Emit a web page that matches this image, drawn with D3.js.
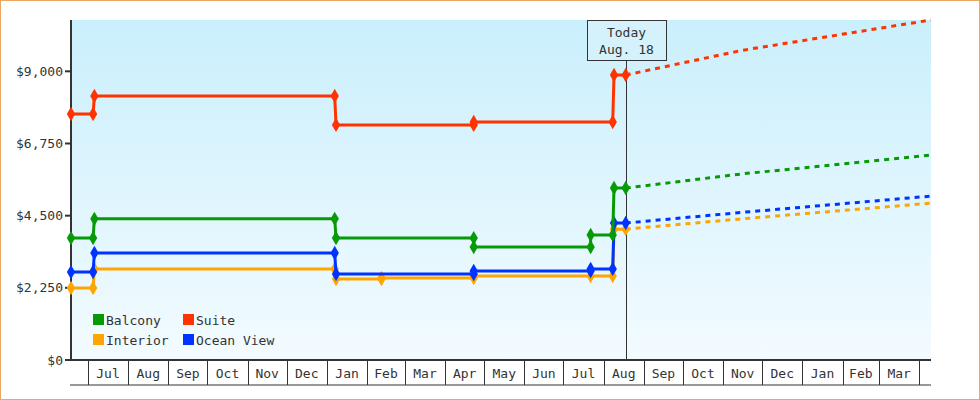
<!DOCTYPE html><html><head><meta charset="utf-8">
<script src="https://cdn.jsdelivr.net/npm/d3@7"></script>
<style>body{margin:0;background:#fff}svg{display:block}text{font-family:"DejaVu Sans Mono",monospace;fill:#333}</style>
</head><body><svg id="c" width="980" height="400"></svg><script>
const seriesNames=["Balcony","Suite","Interior","Ocean View"];
const colors={"Balcony":"#079a07","Suite":"#ff3300","Interior":"#ffa500","Ocean View":"#0033ff"};
// [date, value] history points
const suite=[["2023-06-18",7670],["2023-07-05",7670],["2023-07-06",8230],["2024-01-07",8230],["2024-01-08",7330],["2024-04-23",7330],["2024-04-23",7420],["2024-08-08",7420],["2024-08-09",8885],["2024-08-18",8885]];
const balcony=[["2023-06-18",3800],["2023-07-05",3800],["2023-07-06",4400],["2024-01-07",4400],["2024-01-08",3800],["2024-04-23",3800],["2024-04-23",3520],["2024-07-22",3520],["2024-07-22",3900],["2024-08-08",3900],["2024-08-09",5360],["2024-08-18",5360]];
const ocean=[["2023-06-18",2740],["2023-07-05",2740],["2023-07-06",3335],["2024-01-07",3335],["2024-01-08",2680],["2024-04-23",2680],["2024-04-23",2775],["2024-07-22",2775],["2024-07-22",2840],["2024-08-08",2840],["2024-08-09",4270],["2024-08-18",4270]];
const interior=[["2023-06-18",2245],["2023-07-05",2245],["2023-07-06",2840],["2024-01-07",2840],["2024-01-08",2525],["2024-02-12",2525],["2024-02-12",2555],["2024-04-23",2555],["2024-04-23",2620],["2024-07-22",2620],["2024-08-08",2620],["2024-08-09",4080],["2024-08-18",4080]];
// forecasts
const suiteF=[["2024-08-18",8885],["2024-11-15",9650],["2025-04-10",10600]];
const balconyF=[["2024-08-18",5360],["2024-11-15",5800],["2025-04-10",6390]];
const oceanF=[["2024-08-18",4270],["2024-11-15",4600],["2025-04-10",5110]];
const interiorF=[["2024-08-18",4080],["2024-11-15",4400],["2025-04-10",4890]];
const yTicks=[0,2250,4500,6750,9000];
const monthLabels=["Jul","Aug","Sep","Oct","Nov","Dec","Jan","Feb","Mar","Apr","May","Jun","Jul","Aug","Sep","Oct","Nov","Dec","Jan","Feb","Mar"];
const today="2024-08-18";

const P=d3.timeParse("%Y-%m-%d");
const svg=d3.select("#c");
svg.append("rect").attr("x",0.5).attr("y",0.5).attr("width",979).attr("height",399).attr("fill","#fff").attr("stroke","#e8a860");
const L=71,R=931,T=20,B=360;
const x=d3.scaleTime().domain([P("2023-06-18"),P("2025-04-10")]).range([L,R]);
const y=d3.scaleLinear().domain([0,10600]).range([B,T]);
const g=svg.append("defs").append("linearGradient").attr("id","bg").attr("x1",0).attr("x2",0).attr("y1",0).attr("y2",1);
g.append("stop").attr("offset",0).attr("stop-color","#caeffc");
g.append("stop").attr("offset",1).attr("stop-color","#f3fbff");
svg.append("rect").attr("x",L).attr("y",T).attr("width",R-L).attr("height",B-T).attr("fill","url(#bg)");
// y axis
svg.append("line").attr("x1",L).attr("x2",L).attr("y1",T).attr("y2",B).attr("stroke","#333").attr("stroke-width",2);
svg.append("line").attr("x1",L).attr("x2",R).attr("y1",B).attr("y2",B).attr("stroke","#333").attr("stroke-width",2);
const fmt=d3.format("$,");
yTicks.forEach(v=>{svg.append("line").attr("x1",L-6).attr("x2",L).attr("y1",y(v)).attr("y2",y(v)).attr("stroke","#333").attr("stroke-width",2);
 svg.append("text").attr("x",L-8).attr("y",y(v)+4.5).attr("text-anchor","end").attr("font-size",13).text(fmt(v));});
// x axis bands
svg.append("line").attr("x1",L-1).attr("x2",R).attr("y1",385).attr("y2",385).attr("stroke","#333");
const months=d3.timeMonth.range(P("2023-07-01"),P("2025-05-01"));
months.forEach((m,i)=>{const xx=Math.round(x(m))+0.5;
 if(xx<R) svg.append("line").attr("x1",xx).attr("x2",xx).attr("y1",B).attr("y2",385).attr("stroke","#333");
 if(i<monthLabels.length){const nx=x(d3.timeMonth.offset(m,1));
  svg.append("text").attr("x",(x(m)+Math.min(nx,R))/2).attr("y",378).attr("text-anchor","middle").attr("font-size",13).text(monthLabels[i]);}});
// today
const tx=Math.round(x(P(today)))+0.5;
svg.append("line").attr("x1",tx).attr("x2",tx).attr("y1",60).attr("y2",B).attr("stroke","#333");
svg.append("rect").attr("x",tx-39).attr("y",20.5).attr("width",79).attr("height",40).attr("fill","#d5f2fc").attr("stroke","#333");
svg.append("text").attr("x",tx).attr("y",37).attr("text-anchor","middle").attr("font-size",13).text("Today");
svg.append("text").attr("x",tx).attr("y",54).attr("text-anchor","middle").attr("font-size",13).text("Aug. 18");
const line=d3.line().x(d=>x(P(d[0]))).y(d=>y(d[1]));
const sets=[["Interior",interior,interiorF],["Ocean View",ocean,oceanF],["Balcony",balcony,balconyF],["Suite",suite,suiteF]];
sets.forEach(([n,h,f])=>{
 svg.append("path").attr("d",line(f)).attr("fill","none").attr("stroke",colors[n]).attr("stroke-width",3).attr("stroke-dasharray","5,5");
 svg.append("path").attr("d",line(h)).attr("fill","none").attr("stroke",colors[n]).attr("stroke-width",3);
 h.forEach(d=>svg.append("path").attr("d",d3.symbol(d3.symbolDiamond,60)()).attr("transform",`translate(${x(P(d[0]))},${y(d[1])})`).attr("fill",colors[n]));
});
// legend
const leg=[["Balcony",93,320],["Suite",183,320],["Interior",93,340],["Ocean View",183,340]];
leg.forEach(([n,lx,ly])=>{svg.append("rect").attr("x",lx).attr("y",ly-6).attr("width",11).attr("height",11).attr("fill",colors[n]);
 svg.append("text").attr("x",lx+13).attr("y",ly+5).attr("font-size",13).text(n);});
</script></body></html>
